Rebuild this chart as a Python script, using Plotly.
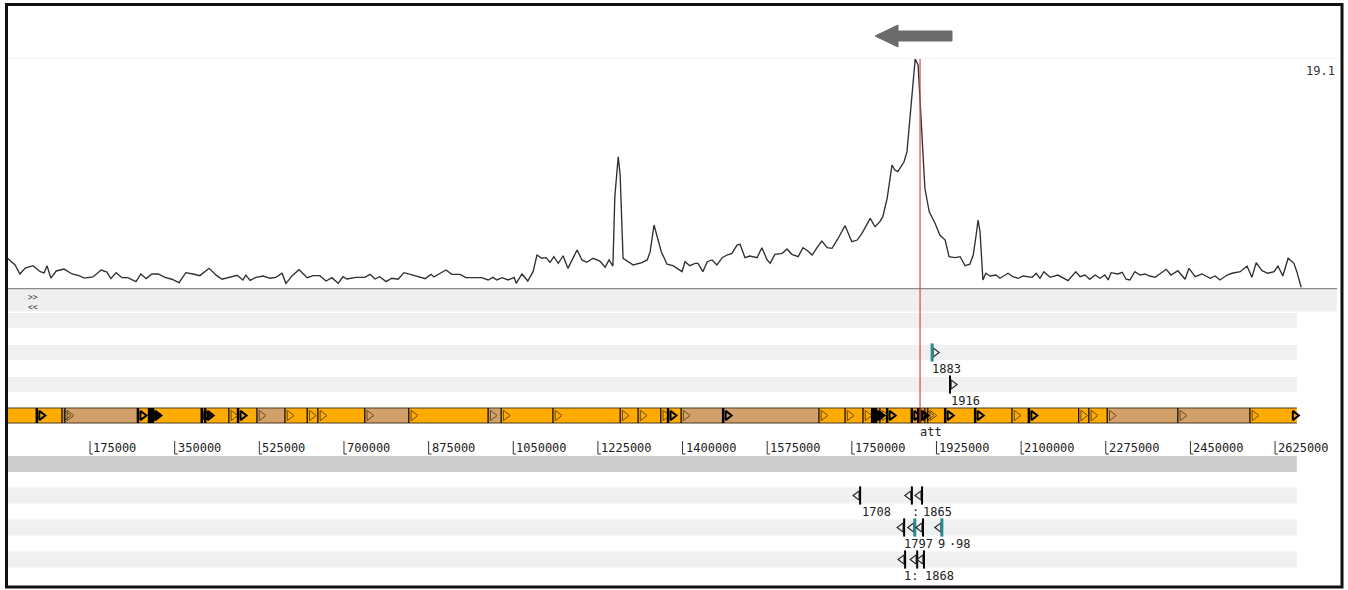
import plotly.graph_objects as go

# ---------------- data ----------------
GENOME_KB = 2670
GRAPH_MAX = 19.1
MARKER_KB = 1891          # red position line

graph_pos_kb = [
    3, 20, 30, 41, 57, 72, 80, 86, 94, 105, 121, 138, 152, 163, 181, 198, 210, 218, 229, 241,
    253, 270, 280, 291, 303, 316, 330, 344, 359, 373, 388, 402, 421, 437, 448, 464, 479, 491, 497, 506,
    518, 533, 547, 559, 572, 580, 593, 607, 624, 636, 650, 663, 675, 688,
    698, 706, 725, 743, 754, 764, 774, 787, 799, 812, 824, 837, 853, 868, 880, 886, 899, 911, 923, 940,
    952, 971, 985, 998, 1008, 1016, 1027, 1039, 1052, 1056, 1068, 1080, 1091, 1099, 1109, 1118, 1126, 1134, 1143, 1153,
    1163, 1182, 1192, 1202, 1215, 1229, 1240, 1248, 1256,
    1260, 1267, 1271, 1275, 1277, 1298, 1316, 1327, 1333, 1341, 1347, 1356, 1368, 1380, 1399, 1405, 1415, 1426, 1432, 1442,
    1451, 1461, 1471, 1482, 1492, 1502, 1513, 1519, 1529, 1539, 1554, 1564, 1575, 1581, 1591, 1606, 1616, 1626, 1639, 1649,
    1659, 1668, 1678, 1688, 1699, 1709, 1721, 1736, 1750, 1761, 1771, 1788, 1798, 1808, 1814, 1823, 1833, 1839, 1845, 1858,
    1864, 1870, 1876, 1881, 1887, 1891, 1895, 1901, 1910, 1922, 1932, 1943, 1951, 1963, 1974, 1984, 1994, 2001, 2007, 2011,
    2015,
    2021, 2027, 2036, 2048, 2056, 2073, 2083, 2094, 2104, 2123, 2131, 2139, 2147, 2160, 2176, 2197, 2213, 2222, 2232, 2242,
    2253, 2263, 2273, 2280, 2286, 2300, 2309, 2317, 2325, 2335, 2346, 2356, 2366, 2377, 2387, 2400, 2410, 2424, 2439, 2447,
    2460, 2474, 2491, 2501, 2511, 2526, 2536, 2553, 2567, 2577, 2586, 2598, 2610, 2623, 2631, 2641, 2652, 2664, 2670, 2679,
]
graph_val = [
    2.53, 1.92, 1.17, 1.67, 1.86, 1.36, 1.25, 1.86, 0.83, 1.42, 1.58, 1.17, 1.03, 0.83, 0.92, 1.50, 1.33, 0.78, 1.28, 0.86,
    0.86, 0.53, 1.17, 0.78, 1.17, 1.17, 0.89, 0.73, 0.44, 1.28, 1.17, 1.03, 1.64, 1.03, 0.73, 0.89, 1.06, 0.67, 1.08, 0.64,
    0.89, 1.00, 0.81, 0.89, 1.23, 0.39, 1.03, 1.53, 0.86, 1.03, 1.03, 0.58, 0.86, 0.39,
    0.94, 0.75, 0.89, 0.89, 1.14, 0.75, 0.94, 0.53, 0.81, 0.73, 1.28, 1.14, 0.94, 0.78, 1.14, 0.92, 1.23, 1.50, 1.14, 1.14,
    0.86, 0.86, 0.86, 0.67, 0.89, 0.67, 0.86, 0.67, 0.89, 0.39, 1.17, 0.58, 1.36, 2.75, 2.48, 2.53, 2.14, 2.61, 2.06, 2.69,
    1.64, 3.17, 2.34, 2.14, 2.48, 2.25, 1.73, 2.34, 1.83,
    7.62, 10.95, 9.43, 4.28, 2.48, 1.92, 2.11, 2.34, 3.03, 5.25, 4.28, 3.03, 1.98, 1.86, 1.36, 2.19, 1.86, 2.06, 2.06, 1.36,
    2.19, 2.34, 1.92, 2.53, 2.75, 2.89, 3.59, 3.64, 2.53, 2.67, 2.53, 3.36, 2.34, 2.06, 2.81, 2.89, 3.25, 2.81, 2.61, 3.36,
    3.09, 2.75, 3.36, 3.92, 3.36, 3.31, 4.09, 5.20, 3.86, 4.00, 4.56, 5.81, 5.11, 5.53, 5.95, 7.48, 10.26, 9.84, 9.70, 10.53,
    11.37, 14.15, 16.93, 19.10, 18.60, 15.82, 12.20, 8.32, 6.36, 5.40, 4.42, 4.00, 2.61, 2.53, 2.61, 1.86, 1.98, 2.75, 4.42, 5.67,
    4.70,
    0.67, 1.23, 1.00, 1.08, 0.81, 1.23, 0.94, 0.81, 1.00, 0.89, 1.23, 0.81, 1.36, 0.89, 1.08, 0.61, 1.36, 0.94, 1.08, 0.73,
    1.08, 0.81, 1.08, 0.67, 1.28, 1.17, 1.31, 0.73, 0.67, 1.36, 1.08, 1.17, 1.00, 0.89, 1.17, 1.56, 1.08, 1.44, 0.73, 1.64,
    0.94, 1.17, 0.81, 1.00, 0.67, 1.08, 1.23, 1.36, 1.83, 0.89, 2.11, 1.44, 1.23, 1.36, 1.83, 1.00, 2.48, 2.06, 1.36, 0.06,
]

contig_start_kb = [0, 65, 117, 123, 274, 297, 301, 305, 406, 413, 462, 481, 520, 578, 624, 646, 743, 834, 998, 1025,
                   1132, 1271, 1308, 1355, 1370, 1397, 1484, 1682, 1736, 1773, 1792, 1796, 1800, 1808, 1823, 1874,
                   1887, 1891, 1901, 1907, 1943, 2005, 2081, 2116, 2219, 2240, 2278, 2424, 2573]
contig_class = ['a', 'a', 'b', 'b', 'a', 'a', 'a', 'a', 'a', 'a', 'a', 'a', 'b', 'a', 'a', 'a', 'b', 'a', 'b', 'a',
                'a', 'a', 'a', 'a', 'a', 'b', 'b', 'a', 'a', 'a', 'a', 'a', 'a', 'a', 'a', 'a',
                'a', 'a', 'a', 'a', 'a', 'a', 'a', 'a', 'a', 'a', 'b', 'b', 'a']
contig_strong = [0, 1, 0, 0, 1, 1, 1, 1, 1, 1, 0, 1, 0, 0, 0, 0, 0, 0, 0, 0,
                 0, 0, 0, 0, 1, 0, 1, 0, 0, 0, 1, 1, 1, 0, 1, 1,
                 1, 1, 0, 0, 1, 1, 0, 1, 0, 0, 0, 0, 0]

tick_values = [175000, 350000, 525000, 700000, 875000, 1050000, 1225000, 1400000,
               1575000, 1750000, 1925000, 2100000, 2275000, 2450000, 2625000]

fwd_feat_kb = [1916, 1953]
fwd_feat_row = [2, 3]
fwd_feat_kind = ['teal', 'plain']
fwd_label_text = ['1883', '1916']
fwd_label_kb = [1946, 1984]
fwd_label_row = [2, 3]

rev_feat_kb = [1763, 1870, 1891, 1854, 1876, 1893, 1932, 1856, 1881, 1895]
rev_feat_row = [1, 1, 1, 2, 2, 2, 2, 3, 3, 3]
rev_feat_kind = ['plain', 'plain', 'plain', 'plain', 'teal', 'plain', 'teal', 'plain', 'plain', 'plain']
rev_label_text = ['1708', ':', '1865', '1797', '9', '·', '98', '1:', '1868']
rev_label_kb = [1800, 1881, 1928, 1887, 1936, 1959, 1980, 1872, 1932]
rev_label_row = [1, 1, 1, 2, 2, 2, 2, 3, 3]

# ---------------- layout constants (pixels) ----------------
W, H = 1348, 590
X_RANGE = [-11165, 2775800]
BP_PX = (X_RANGE[1] - X_RANGE[0]) / W
GRAPH_TOP, GRAPH_BOT = 59, 288
BAR_TOP, BAR_BOT = 408, 423
BAR_Y = (BAR_TOP + BAR_BOT) / 2
FWD_ROW_Y = {1: 320.5, 2: 352.5, 3: 384.5}
REV_ROW_Y = {1: 495.5, 2: 527.5, 3: 559.5}
MONO = "DejaVu Sans Mono"
ORANGE, TAN, TEAL = "#ffab00", "#d2a06b", "#2a8c8c"
STRIPE = "#f0f0f0"
genome_bp = GENOME_KB * 1000
PX_RIGHT = 1337 / W
PX_LEFT = 7 / W

fig = go.Figure()
shapes = []
annotations = []

def band(y0, y1, color, x1=None, paper=False):
    if paper:
        shapes.append(dict(type="rect", xref="paper", yref="y", x0=PX_LEFT, x1=PX_RIGHT, y0=y0, y1=y1,
                           fillcolor=color, line_width=0, layer="below"))
    else:
        shapes.append(dict(type="rect", xref="x", yref="y", x0=0, x1=genome_bp if x1 is None else x1,
                           y0=y0, y1=y1, fillcolor=color, line_width=0, layer="below"))

# graph frame lines
shapes.append(dict(type="line", xref="paper", yref="y", x0=PX_LEFT, x1=PX_RIGHT, y0=GRAPH_TOP, y1=GRAPH_TOP,
                   line=dict(color="#eeeeee", width=1.5), layer="below"))
band(289, 311.5, "#efefef", paper=True)
shapes.append(dict(type="line", xref="paper", yref="y", x0=PX_LEFT, x1=PX_RIGHT, y0=288.6, y1=288.6,
                   line=dict(color="#8a8a8a", width=1.5), layer="below"))
# forward frame stripes
for r, yc in FWD_ROW_Y.items():
    band(yc - 7.5, yc + 7.5, STRIPE)
# ruler band and reverse stripes
band(456, 472, "#cccccc")
for r, yc in REV_ROW_Y.items():
    band(yc - 8, yc + 8, STRIPE)

# ---------------- graph ----------------
fig.add_trace(go.Scatter(x=[k * 1000 for k in graph_pos_kb], y=graph_val, yaxis="y2", mode="lines",
                         line=dict(color="#303030", width=1.35), hoverinfo="skip", showlegend=False))

# ---------------- contig bar ----------------
ends = contig_start_kb[1:] + [GENOME_KB]
fig.add_trace(go.Bar(orientation="h", y=[BAR_Y] * len(contig_start_kb),
                     base=[s * 1000 for s in contig_start_kb],
                     x=[(e - s) * 1000 for s, e in zip(contig_start_kb, ends)],
                     width=BAR_BOT - BAR_TOP,
                     marker=dict(color=[ORANGE if c == 'a' else TAN for c in contig_class], line_width=0),
                     hoverinfo="skip", showlegend=False))
for yb in (BAR_TOP, BAR_BOT):
    shapes.append(dict(type="line", xref="x", yref="y", x0=0, x1=genome_bp, y0=yb, y1=yb,
                       line=dict(color="#4a3a20", width=1)))
thin_x, bold_x = [], []
for s, st in zip(contig_start_kb, contig_strong):
    if s == 0:
        continue
    shapes.append(dict(type="line", xref="x", yref="y", x0=s * 1000, x1=s * 1000, y0=BAR_TOP, y1=BAR_BOT,
                       line=dict(color="#000000", width=2.5 if st else 1.2)))
    (bold_x if st else thin_x).append(s * 1000 + 4.5 * BP_PX)
fig.add_trace(go.Scatter(x=thin_x, y=[BAR_Y] * len(thin_x), mode="markers",
                         marker=dict(symbol="triangle-right-open", size=9, color="#6a4a10", line=dict(width=1)),
                         hoverinfo="skip", showlegend=False))
fig.add_trace(go.Scatter(x=bold_x + [genome_bp - 2 * BP_PX], y=[BAR_Y] * (len(bold_x) + 1), mode="markers",
                         marker=dict(symbol="triangle-right-open", size=8, color="#000000", line=dict(width=2)),
                         hoverinfo="skip", showlegend=False))
annotations.append(dict(x=MARKER_KB * 1000, y=432, xref="x", yref="y", text="att", showarrow=False,
                        xanchor="left", xshift=-2, font=dict(family=MONO, size=12, color="#222")))

# ---------------- ruler ----------------
for t in tick_values:
    shapes.append(dict(type="line", xref="x", yref="y", x0=t, x1=t, y0=441, y1=454,
                       line=dict(color="#333", width=1)))
    shapes.append(dict(type="line", xref="x", yref="y", x0=t, x1=t + 3 * BP_PX, y0=454, y1=454,
                       line=dict(color="#333", width=1)))
    annotations.append(dict(x=t, y=448, xref="x", yref="y", text=str(t), showarrow=False, xanchor="left",
                            xshift=1, font=dict(family=MONO, size=12, color="#222")))

# ---------------- features ----------------
for kb, row, kind in zip(fwd_feat_kb, fwd_feat_row, fwd_feat_kind):
    yc = FWD_ROW_Y[row]
    fig.add_trace(go.Scatter(x=[kb * 1000 + 3 * BP_PX], y=[yc], mode="markers",
                             marker=dict(symbol="triangle-right-open", size=8, color="#222", line=dict(width=1.2)),
                             hoverinfo="skip", showlegend=False))
    fig.add_trace(go.Scatter(x=[kb * 1000], y=[yc], mode="markers",
                             marker=dict(symbol="line-ns-open", size=13, color=TEAL if kind == 'teal' else "#000",
                                         line=dict(width=3 if kind == 'teal' else 2)),
                             hoverinfo="skip", showlegend=False))
for t, kb, row in zip(fwd_label_text, fwd_label_kb, fwd_label_row):
    annotations.append(dict(x=kb * 1000, y=FWD_ROW_Y[row] + 16, xref="x", yref="y", text=t, showarrow=False,
                            font=dict(family=MONO, size=12, color="#222")))
for kb, row, kind in zip(rev_feat_kb, rev_feat_row, rev_feat_kind):
    yc = REV_ROW_Y[row]
    fig.add_trace(go.Scatter(x=[kb * 1000 - 1 * BP_PX], y=[yc], mode="markers",
                             marker=dict(symbol="triangle-left-open", size=8, color="#222", line=dict(width=1.2)),
                             hoverinfo="skip", showlegend=False))
    fig.add_trace(go.Scatter(x=[kb * 1000 + 2 * BP_PX], y=[yc], mode="markers",
                             marker=dict(symbol="line-ns-open", size=13, color=TEAL if kind == 'teal' else "#000",
                                         line=dict(width=3 if kind == 'teal' else 2)),
                             hoverinfo="skip", showlegend=False))
for t, kb, row in zip(rev_label_text, rev_label_kb, rev_label_row):
    annotations.append(dict(x=kb * 1000, y=REV_ROW_Y[row] + 16, xref="x", yref="y", text=t, showarrow=False,
                            font=dict(family=MONO, size=12, color="#222")))

# ---------------- decorations ----------------
shapes.append(dict(type="line", xref="x", yref="y", x0=MARKER_KB * 1000, x1=MARKER_KB * 1000,
                   y0=GRAPH_TOP, y1=BAR_BOT + 1, line=dict(color="#d2484f", width=1.2), layer="above"))
# direction arrow (pointing left)
ax0, ax1, ay = 875 / W, 952 / W, 36
hx = 898 / W
shapes.append(dict(type="path", xref="paper", yref="y",
                   path=f"M {ax0} {ay} L {hx} 25 L {hx} 31 L {ax1} 31 L {ax1} 41 L {hx} 41 L {hx} 47 Z",
                   fillcolor="#6b6b6b", line=dict(color="#6b6b6b", width=1)))
annotations.append(dict(x=PX_RIGHT, y=71, xref="paper", yref="y", text="19.1", showarrow=False, xanchor="right",
                        font=dict(family=MONO, size=12, color="#333")))
# strand toggles, one text block on two lines
annotations.append(dict(x=27 / W, y=302, xref="paper", yref="y", text="&gt;&gt;<br>&lt;&lt;", showarrow=False,
                        xanchor="left", align="left", borderpad=0,
                        font=dict(family=MONO, size=8, color="#444")))
# outer frame
shapes.append(dict(type="rect", xref="paper", yref="y", x0=6.5 / W, x1=1342 / W, y0=4.5, y1=587,
                   line=dict(color="#111", width=3), fillcolor="rgba(0,0,0,0)", layer="above"))

fig.update_layout(
    width=W, height=H, margin=dict(l=0, r=0, t=0, b=0),
    paper_bgcolor="white", plot_bgcolor="white", barmode="overlay", showlegend=False,
    xaxis=dict(range=X_RANGE, visible=False, fixedrange=True),
    yaxis=dict(range=[H, 0], domain=[0, 1], visible=False, fixedrange=True),
    yaxis2=dict(range=[0, GRAPH_MAX], domain=[(H - GRAPH_BOT) / H, (H - GRAPH_TOP) / H], anchor="x",
                visible=False, fixedrange=True),
    shapes=shapes, annotations=annotations,
)
fig.write_html("out.html", config={"displayModeBar": False})

# remove the browser's default page margin so the figure sits at the window origin
with open("out.html", encoding="utf-8") as f:
    page = f.read()
page = page.replace("<head>", "<head><style>html,body{margin:0;padding:0;overflow:hidden;}</style>", 1)
with open("out.html", "w", encoding="utf-8") as f:
    f.write(page)
